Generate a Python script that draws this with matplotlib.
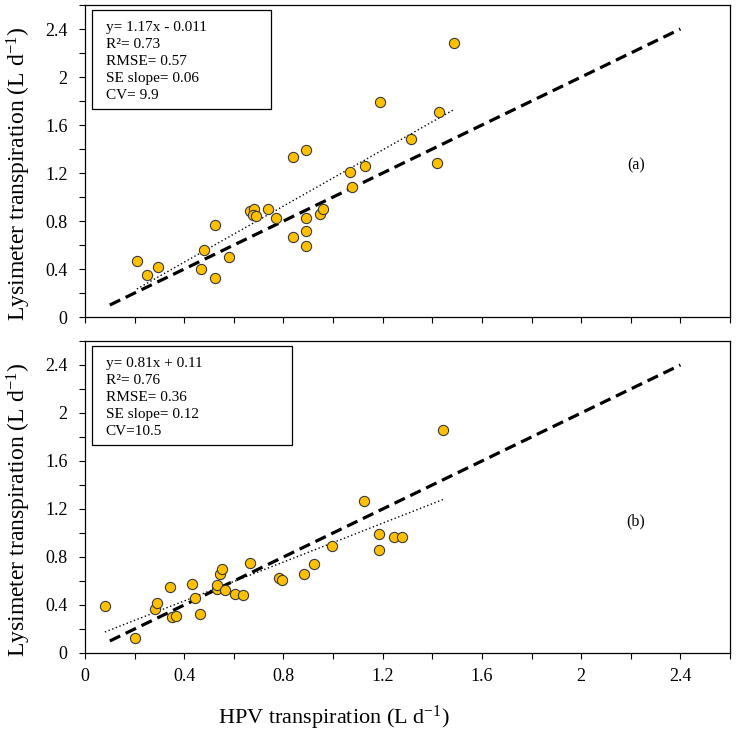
import matplotlib
matplotlib.use('Agg')
import matplotlib.pyplot as plt
from matplotlib.patches import Rectangle
from matplotlib.ticker import MultipleLocator, FuncFormatter
import numpy as np

plt.rcParams['font.family'] = ['Liberation Serif', 'DejaVu Serif']
plt.rcParams['mathtext.fontset'] = 'custom'
plt.rcParams['mathtext.rm'] = 'Liberation Serif'
plt.rcParams['mathtext.default'] = 'regular'

# panel (a)
hpv_a = [0.209, 0.249, 0.296, 0.467, 0.478, 0.525, 0.525, 0.579, 0.667, 0.680,
         0.677, 0.690, 0.738, 0.768, 0.839, 0.839, 0.889, 0.889, 0.889, 0.889,
         0.947, 0.959, 1.068, 1.077, 1.127, 1.189, 1.316, 1.418, 1.428, 1.488]
lys_a = [0.467, 0.350, 0.419, 0.400, 0.558, 0.764, 0.322, 0.497, 0.886, 0.897,
         0.850, 0.842, 0.897, 0.822, 1.336, 0.664, 1.392, 0.828, 0.714, 0.592,
         0.858, 0.897, 1.206, 1.086, 1.258, 1.789, 1.483, 1.286, 1.706, 2.286]
fit_a = (1.17, -0.011)
stats_a = ['y= 1.17x - 0.011', 'R²= 0.73', 'RMSE= 0.57', 'SE slope= 0.06', 'CV= 9.9']

# panel (b)
hpv_b = [0.080, 0.201, 0.282, 0.292, 0.342, 0.351, 0.365, 0.433, 0.443, 0.463,
         0.530, 0.533, 0.544, 0.554, 0.564, 0.604, 0.635, 0.665, 0.783, 0.794,
         0.884, 0.924, 0.994, 1.124, 1.185, 1.185, 1.245, 1.276, 1.444]
lys_b = [0.392, 0.128, 0.369, 0.419, 0.550, 0.300, 0.306, 0.572, 0.461, 0.325,
         0.536, 0.569, 0.661, 0.697, 0.528, 0.489, 0.481, 0.753, 0.628, 0.606,
         0.656, 0.739, 0.892, 1.267, 0.992, 0.861, 0.964, 0.969, 1.856]
fit_b = (0.81, 0.11)
stats_b = ['y= 0.81x + 0.11', 'R²= 0.76', 'RMSE= 0.36', 'SE slope= 0.12', 'CV=10.5']

one_to_one = [0.1, 2.4]
panel_tags = ['(a)', '(b)']

fig = plt.figure(figsize=(7.38, 7.39), dpi=100)
ax_a = fig.add_axes([0.1152, 0.571, 0.874, 0.4222])
ax_b = fig.add_axes([0.1152, 0.1164, 0.874, 0.4222])


def fmt(v, pos):
    s = f'{v:.1f}'
    return s[:-2] if s.endswith('.0') else s


def draw_panel(ax, x, y, fit, stats, tag, box_w):
    ax.plot(one_to_one, one_to_one, color='black', lw=2.3, dashes=(3.6, 1.9), zorder=2)
    xs = np.array([min(x), max(x)])
    ax.plot(xs, fit[0] * xs + fit[1], color='black', lw=1.0,
            linestyle=(0, (1, 1.8)), zorder=2)
    ax.scatter(x, y, s=54, color='#FFC000', edgecolors='#3a3a3a', linewidths=0.8, zorder=3)
    ax.set_xlim(0, 2.6)
    ax.set_ylim(0, 2.6)
    for a in (ax.xaxis, ax.yaxis):
        a.set_major_locator(MultipleLocator(0.4))
        a.set_minor_locator(MultipleLocator(0.2))
        a.set_major_formatter(FuncFormatter(fmt))
    ax.tick_params(which='both', direction='out', length=4.5, width=0.8, labelsize=13)
    ax.tick_params(axis='x', pad=6)
    ax.tick_params(axis='y', pad=8)
    for sp in ax.spines.values():
        sp.set_linewidth(0.9)
    ax.add_patch(Rectangle((0.011, 0.667), box_w, 0.317, transform=ax.transAxes,
                           fill=False, edgecolor='black', lw=0.9, zorder=4))
    for i, line in enumerate(stats):
        ax.text(0.032, 0.928 - i * 0.0548, line, transform=ax.transAxes,
                fontsize=11, va='center', ha='left', zorder=5)
    ax.text(2.22, 1.26 if tag == '(a)' else 1.1, tag, fontsize=11.5, ha='center', va='center')


draw_panel(ax_a, hpv_a, lys_a, fit_a, stats_a, panel_tags[0], 0.278)
draw_panel(ax_b, hpv_b, lys_b, fit_b, stats_b, panel_tags[1], 0.31)
ax_a.tick_params(axis='x', labelbottom=False)

ylab = r'Lysimeter transpiration (L d$^{-1}$)'
fig.text(0.025, 0.765, ylab, rotation=90, fontsize=17, ha='center', va='center')
fig.text(0.025, 0.31, ylab, rotation=90, fontsize=17, ha='center', va='center')
fig.text(0.452, 0.028, r'HPV transpiration (L d$^{-1}$)', fontsize=16, ha='center', va='center')

fig.savefig('out.png', dpi=100)
